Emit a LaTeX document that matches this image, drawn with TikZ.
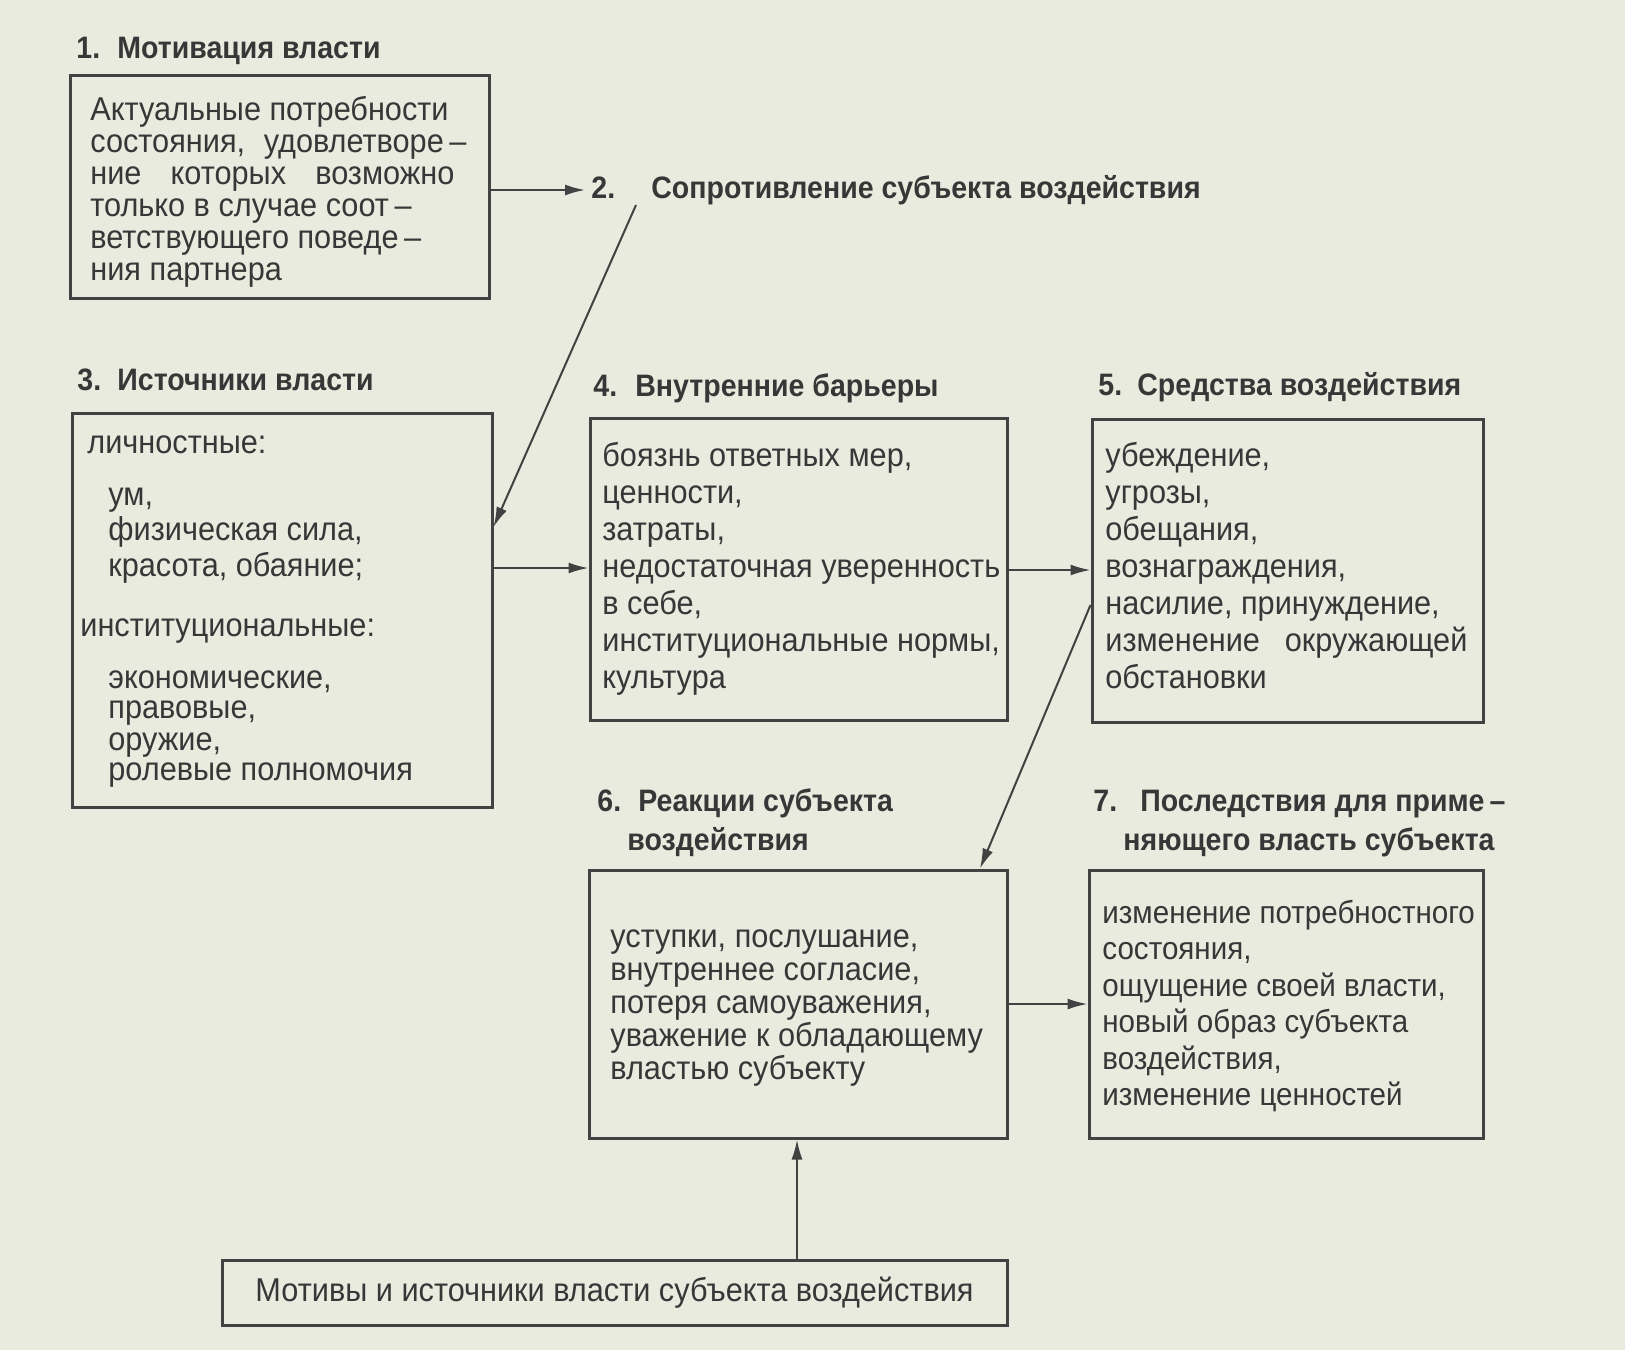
\documentclass[tikz,border=0pt]{standalone}
\usepackage{fontspec}
\setmainfont{Liberation Sans}
\newfontfamily\bodyface{Liberation Sans}[FakeStretch=0.93]
\newfontfamily\headface{Liberation Sans}[FakeStretch=0.92]
\usetikzlibrary{arrows.meta}
\definecolor{paper}{RGB}{233,235,223}
\definecolor{ink}{RGB}{55,55,55}
\definecolor{inkline}{RGB}{66,66,66}
\newcommand\bodyfs[2]{\bodyface\fontsize{#1}{#2}\selectfont}
\begin{document}
\begin{tikzpicture}[x=0.5pt,y=-0.5pt,
  box/.style={draw=inkline,line width=1.5pt,rectangle,inner sep=0pt,text=ink,font=\bodyfs{16.5}{18pt}},
  txt/.style={anchor=west,align=left,inner sep=0pt,text=ink},
  head/.style={anchor=base west,inner sep=0pt,text=ink,font=\headface\fontsize{15.5}{18}\selectfont\bfseries},
  arr/.style={draw=inkline,line width=1pt,-{Latex[length=10pt,width=5.5pt]}}]
\fill[paper] (0,0) rectangle (1625,1350);
\useasboundingbox (0,0) rectangle (1625,1350);

% headings
\node[head] (h1) at (76,58) {\makebox[20.5pt][l]{1.}Мотивация власти};
\node[head] (h2) at (591,198) {\makebox[30pt][l]{2.}Сопротивление субъекта воздействия};
\node[head] (h3) at (77,390) {\makebox[20pt][l]{3.}Источники власти};
\node[head] (h4) at (593,396) {\makebox[21pt][l]{4.}Внутренние барьеры};
\node[head] (h5) at (1098,395) {\makebox[19.5pt][l]{5.}Средства воздействия};
\node[head] (h6a) at (597,811) {\makebox[20.5pt][l]{6.}Реакции субъекта};
\node[head] (h6b) at (627,850) {воздействия};
\node[head] (h7a) at (1093,811) {\makebox[23.5pt][l]{7.}Последствия для приме\,–};
\node[head] (h7b) at (1123,850) {няющего власть субъекта};

% boxes
\node[box,minimum width=209.5pt,minimum height=111.5pt] (b1) at (279.5,186.5) {};
\node[box,minimum width=210pt,minimum height=197pt] (b3) at (282,610) {};
\node[box,minimum width=208.5pt,minimum height=151pt] (b4) at (798.5,569) {};
\node[box,minimum width=195.5pt,minimum height=151.5pt] (b5) at (1287.5,570.5) {};
\node[box,minimum width=209pt,minimum height=134pt] (b6) at (798,1004) {};
\node[box,minimum width=197pt,minimum height=134pt] (b7) at (1286,1004) {};
\node[box,minimum width=392.5pt,minimum height=32.5pt] (bB) at (614.5,1292.5)
  {Мотивы и источники власти субъекта воздействия};

% box texts
\node[txt,font=\bodyfs{16.5}{16pt}] (t1) at (90,192) {Актуальные потребности\\
\makebox[188pt][s]{состояния, удовлетворе\,–}\\
\makebox[182pt][s]{ние которых возможно}\\
только в случае соот\,–\\
ветствующего поведе\,–\\
ния партнера};

\node[txt,font=\bodyfs{16.5}{17pt}] (t3) at (80,612) {\hspace*{3.5pt}личностные:\\[9pt]
\hspace*{14pt}ум,\\[0.5pt]
\hspace*{14pt}физическая сила,\\[1pt]
\hspace*{14pt}красота, обаяние;\\[13pt]
институциональные:\\[9pt]
\hspace*{14pt}экономические,\\[-2pt]
\hspace*{14pt}правовые,\\[-1pt]
\hspace*{14pt}оружие,\\[-2pt]
\hspace*{14pt}ролевые полномочия};

\node[txt,font=\bodyfs{16.5}{18.5pt}] (t4) at (602,569) {боязнь ответных мер,\\
ценности,\\
затраты,\\
недостаточная уверенность\\
в себе,\\
институциональные нормы,\\
культура};

\node[txt,font=\bodyfs{16.5}{18.5pt}] (t5) at (1105,566) {убеждение,\\
угрозы,\\
обещания,\\
вознаграждения,\\
насилие, принуждение,\\
\makebox[181pt][s]{изменение окружающей}\\
обстановки};

\node[txt,font=\bodyfs{16.5}{16.6pt}] (t6) at (610,1008) {уступки, послушание,\\
внутреннее согласие,\\
потеря самоуважения,\\
уважение к обладающему\\
властью субъекту};

\node[txt,font=\bodyfs{15.9}{18.2pt}] (t7) at (1102,1006) {изменение потребностного\\
состояния,\\
ощущение своей власти,\\
новый образ субъекта\\
воздействия,\\
изменение ценностей};

% connectors
\coordinate (c2) at (585,190);
\coordinate (d2) at (636,205);
\coordinate (d5) at (980,0);
\coordinate (cb) at (797,0);
\draw[arr] (b1.east |- c2) -- (c2);
\draw[arr] (d2) -- (b3.east |- 0,527);
\draw[arr] (b3.east |- 0,568) -- (b4.west |- 0,568);
\draw[arr] (b4.east |- 0,570) -- (b5.west |- 0,570);
\draw[arr] (b5.west |- 0,605) -- (d5 |- b6.north);
\draw[arr] (b6.east |- 0,1004) -- (b7.west |- 0,1004);
\draw[arr] (cb |- bB.north) -- (cb |- b6.south);
\end{tikzpicture}
\end{document}
